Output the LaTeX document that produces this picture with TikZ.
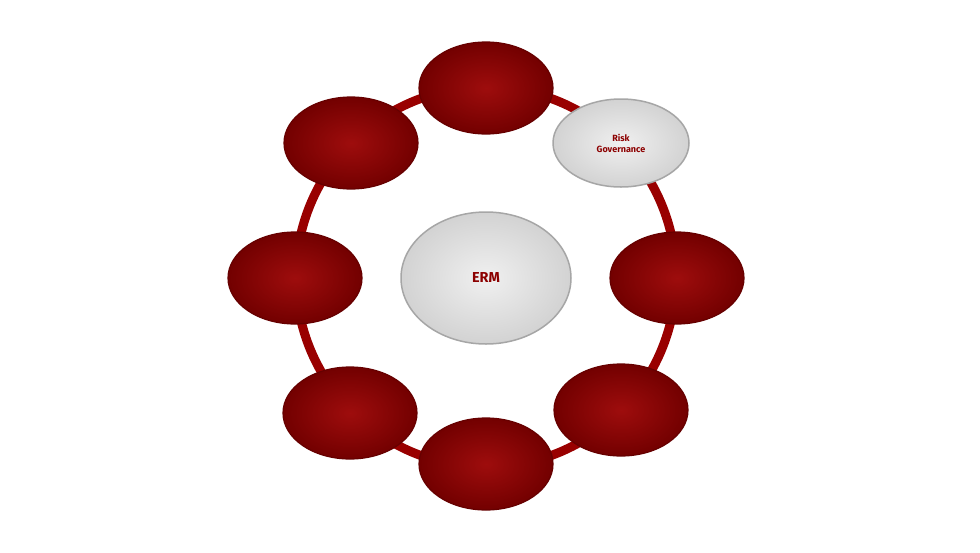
\documentclass[tikz,border=0pt]{standalone}
\usepackage{fontspec}
\setmainfont{Fira Sans}
\usetikzlibrary{shapes.geometric}
\begin{document}
\begin{tikzpicture}[x=1pt,y=-1pt,
  redov/.style={ellipse,minimum width=134pt,minimum height=92pt,draw=red!40!black,line width=1.2pt,inner color=red!60!black!95,outer color=red!45!black},
  greyov/.style={ellipse,draw=gray!70,line width=1.5pt,inner color=gray!12,outer color=gray!35,font=\bfseries,text=red!55!black,align=center}]
\useasboundingbox (0,0) rectangle (980,552);
\fill[white] (0,0) rectangle (980,552);
\draw[line width=9pt,color=red!60!black] (486,277) circle (190);
\node[redov] (n1) at (486,88) {};
\node[redov] (n2) at (351,143) {};
\node[greyov,minimum width=136pt,minimum height=88pt,font=\bfseries\small] (rg) at (621,143) {Risk\\Governance};
\node[redov] (n3) at (295,278) {};
\node[redov] (n4) at (677,278) {};
\node[redov] (n5) at (350,413) {};
\node[redov] (n6) at (621,410) {};
\node[redov] (n7) at (486,464) {};
\node[greyov,minimum width=170pt,minimum height=132pt,font=\bfseries\Large] (erm) at (486,278) {ERM};
\end{tikzpicture}
\end{document}
